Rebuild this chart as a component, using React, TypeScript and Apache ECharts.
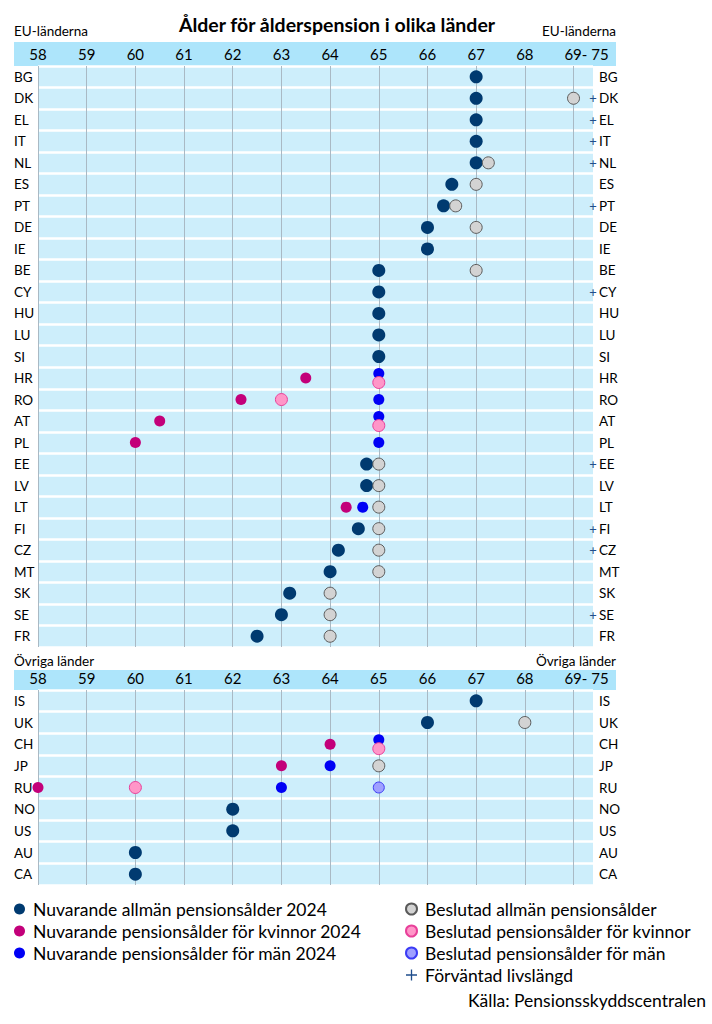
import React, { useEffect, useRef } from "react";
import * as echarts from "echarts";

const EU_COUNTRIES = ["BG","DK","EL","IT","NL","ES","PT","DE","IE","BE","CY","HU","LU","SI","HR","RO","AT","PL","EE","LV","LT","FI","CZ","MT","SK","SE","FR"];
const EU_CURRENT = [67,67,67,67,67,66.5,66.33,66,66,65,65,65,65,65,null,null,null,null,64.75,64.75,null,64.58,64.17,64,63.17,63,62.5];
const EU_WOMEN = [null,null,null,null,null,null,null,null,null,null,null,null,null,null,63.5,62.17,60.5,60,null,null,64.33,null,null,null,null,null,null];
const EU_MEN = [null,null,null,null,null,null,null,null,null,null,null,null,null,null,65,65,65,65,null,null,64.67,null,null,null,null,null,null];
const EU_DECIDED = [null,69,null,null,67.25,67,66.58,67,null,67,null,null,null,null,null,null,null,null,65,65,65,65,65,65,64,64,64];
const EU_DECIDED_WOMEN = [null,null,null,null,null,null,null,null,null,null,null,null,null,null,65,63,65,null,null,null,null,null,null,null,null,null,null];
const EU_DECIDED_MEN = [null,null,null,null,null,null,null,null,null,null,null,null,null,null,null,null,null,null,null,null,null,null,null,null,null,null,null];
const EU_LIFE_EXPECTANCY = [false,true,true,true,true,false,true,false,false,false,true,false,false,false,false,false,false,false,true,false,false,true,true,false,false,true,false];

const OTHER_COUNTRIES = ["IS","UK","CH","JP","RU","NO","US","AU","CA"];
const OTHER_CURRENT = [67,66,null,null,null,62,62,60,60];
const OTHER_WOMEN = [null,null,64,63,58,null,null,null,null];
const OTHER_MEN = [null,null,65,64,63,null,null,null,null];
const OTHER_DECIDED = [null,68,null,65,null,null,null,null,null];
const OTHER_DECIDED_WOMEN = [null,null,65,null,60,null,null,null,null];
const OTHER_DECIDED_MEN = [null,null,null,null,65,null,null,null,null];
const OTHER_LIFE_EXPECTANCY = [false,false,false,false,false,false,false,false,false];

const X_TICKS = [58,59,60,61,62,63,64,65,66,67,68,69];
const X_LAST_LABEL = "69- 75";

const NAMES = [
  "Nuvarande allmän pensionsålder 2024",
  "Nuvarande pensionsålder för kvinnor 2024",
  "Nuvarande pensionsålder för män 2024",
  "Beslutad allmän pensionsålder",
  "Beslutad pensionsålder för kvinnor",
  "Beslutad pensionsålder för män",
  "Förväntad livslängd",
];

const FONT = "Lato";

const STYLES = [
  { size: 13, itemStyle: { color: "#003a70", opacity: 1 } },
  { size: 11, itemStyle: { color: "#c3007a", opacity: 1 } },
  { size: 11, itemStyle: { color: "#0000f5", opacity: 1 } },
  { size: 12, itemStyle: { color: "#d3d3d3", borderColor: "#5a5a5a", borderWidth: 1, opacity: 1 } },
  { size: 12, itemStyle: { color: "#ff96c8", borderColor: "#e8409a", borderWidth: 1, opacity: 1 } },
  { size: 11, itemStyle: { color: "#9fa0ff", borderColor: "#3b3bf5", borderWidth: 1, opacity: 1 } },
];

const PLUS_PATH = "path://M4.4,0h1.2v4.4h4.4v1.2h-4.4v4.4h-1.2v-4.4h-4.4v-1.2h4.4z";

function buildSeries(gi: number, lists: (number | null)[][]) {
  const men = lists[2];
  const dWomen = lists[4];
  return lists.map((arr, k) => ({
    name: NAMES[k],
    type: "scatter",
    xAxisIndex: gi,
    yAxisIndex: gi * 2,
    symbol: "circle",
    symbolSize: STYLES[k].size,
    itemStyle: STYLES[k].itemStyle,
    emphasis: { disabled: true },
    clip: false,
    z: 5 + k,
    data: arr
      .map((v, i) => {
        if (v == null) return null;
        let off = [0, 0];
        if (k === 2 && dWomen[i] === v) off = [0, -4.5];
        if (k === 4 && men[i] === v) off = [0, 4.5];
        return { value: [v, i], symbolOffset: off };
      })
      .filter((d) => d !== null),
  }));
}

function xAxis(gi: number) {
  return {
    type: "value",
    gridIndex: gi,
    position: "top",
    min: 58,
    max: 69.4,
    interval: 1,
    z: 3,
    axisLine: { show: false },
    axisTick: { show: false },
    splitLine: { show: true, showMaxLine: false, lineStyle: { color: "#a9b9c4", width: 1 } },
    axisLabel: {
      margin: 5,
      fontSize: 15,
      fontFamily: FONT,
      color: "#000",
      showMaxLabel: false,
      formatter: (v: number) => {
        if (v === X_TICKS[X_TICKS.length - 1]) return "{s|" + X_LAST_LABEL + "}";
        return X_TICKS.indexOf(v) >= 0 ? String(v) : "";
      },
      rich: { s: { fontSize: 15, fontFamily: FONT, color: "#000", padding: [0, 0, 0, 26] } },
    },
  };
}

function yAxes(gi: number, cats: string[], flags: boolean[]) {
  const common = {
    type: "category",
    gridIndex: gi,
    data: cats,
    inverse: true,
    axisLine: { show: false },
    axisTick: { show: false },
  };
  return [
    {
      ...common,
      position: "left",
      z: 2,
      splitLine: { show: true, interval: 0, lineStyle: { color: "#ffffff", width: 2.5 } },
      axisLabel: { align: "left", margin: 24, fontSize: 13.5, fontFamily: FONT, color: "#000", interval: 0 },
    },
    {
      ...common,
      position: "right",
      z: 2,
      splitLine: { show: false },
      axisLabel: {
        align: "left",
        margin: -4,
        interval: 0,
        formatter: (v: string, i: number) => (flags[i] ? "{p|+}" : "{p|}") + "{t|" + v + "}",
        rich: {
          p: { width: 8, align: "center", fontSize: 13, fontFamily: FONT, color: "#1f4e8c" },
          t: { fontSize: 13.5, fontFamily: FONT, color: "#000", padding: [0, 0, 0, 2] },
        },
      },
    },
  ];
}

export default function App() {
  const ref = useRef<HTMLDivElement>(null);
  useEffect(() => {
    if (!ref.current) return;
    const chart = echarts.init(ref.current, null, { renderer: "svg" });
    const euLists = [EU_CURRENT, EU_WOMEN, EU_MEN, EU_DECIDED, EU_DECIDED_WOMEN, EU_DECIDED_MEN];
    const otLists = [OTHER_CURRENT, OTHER_WOMEN, OTHER_MEN, OTHER_DECIDED, OTHER_DECIDED_WOMEN, OTHER_DECIDED_MEN];
    const series: any[] = [...buildSeries(0, euLists), ...buildSeries(1, otLists)];
    series.push({
      name: NAMES[6],
      type: "scatter",
      xAxisIndex: 0,
      yAxisIndex: 0,
      symbol: PLUS_PATH,
      itemStyle: { color: "#1f4e8c", opacity: 1 },
      data: [],
    });
    const labelStyle = { fontFamily: FONT, fill: "#000" };
    const legendText = { fontFamily: FONT, fontSize: 17.5, color: "#000", lineHeight: 22, padding: [0, 0, 0, 3] };
    const option: any = {
      animation: false,
      backgroundColor: "#ffffff",
      grid: [
        { left: 38, width: 555, top: 66, height: 581, show: true, backgroundColor: "#cdeefb", borderWidth: 0 },
        { left: 38, width: 555, top: 690, height: 195, show: true, backgroundColor: "#cdeefb", borderWidth: 0 },
      ],
      xAxis: [xAxis(0), xAxis(1)],
      yAxis: [...yAxes(0, EU_COUNTRIES, EU_LIFE_EXPECTANCY), ...yAxes(1, OTHER_COUNTRIES, OTHER_LIFE_EXPECTANCY)],
      legend: [
        {
          orient: "vertical",
          left: 14,
          top: 898,
          padding: 0,
          itemWidth: 11,
          itemHeight: 11,
          itemGap: 0,
          selectedMode: false,
          textStyle: legendText,
          data: [NAMES[0], NAMES[1], NAMES[2]].map((n) => ({ name: n, icon: "circle" })),
        },
        {
          orient: "vertical",
          left: 405,
          top: 898,
          padding: 0,
          itemWidth: 11,
          itemHeight: 11,
          itemGap: 0,
          selectedMode: false,
          textStyle: legendText,
          data: [
            { name: NAMES[3], icon: "circle" },
            { name: NAMES[4], icon: "circle" },
            { name: NAMES[5], icon: "circle" },
            { name: NAMES[6], icon: PLUS_PATH, itemStyle: { color: "#1f4e8c" } },
          ],
        },
      ],
      graphic: [
        { type: "rect", z: -10, shape: { x: 14, y: 42, width: 602, height: 24 }, style: { fill: "#ade5fb" } },
        { type: "rect", z: -10, shape: { x: 14, y: 670, width: 602, height: 20 }, style: { fill: "#ade5fb" } },
        { type: "text", x: 337, y: 24, style: { ...labelStyle, text: "Ålder för ålderspension i olika länder", fontSize: 19.5, fontWeight: "bold", align: "center", verticalAlign: "middle" } },
        { type: "text", x: 14, y: 31, style: { ...labelStyle, text: "EU-länderna", fontSize: 13.5, verticalAlign: "middle" } },
        { type: "text", x: 616, y: 31, style: { ...labelStyle, text: "EU-länderna", fontSize: 13.5, align: "right", verticalAlign: "middle" } },
        { type: "text", x: 14, y: 661, style: { ...labelStyle, text: "Övriga länder", fontSize: 13.5, verticalAlign: "middle" } },
        { type: "text", x: 616, y: 661, style: { ...labelStyle, text: "Övriga länder", fontSize: 13.5, align: "right", verticalAlign: "middle" } },
        { type: "text", x: 706, y: 1000, style: { ...labelStyle, text: "Källa: Pensionsskyddscentralen", fontSize: 17.5, align: "right", verticalAlign: "middle" } },
      ],
      series,
    };
    chart.setOption(option);
    return () => chart.dispose();
  }, []);
  return <div ref={ref} style={{ position: "absolute", left: 0, top: 0, width: 712, height: 1024 }} />;
}
